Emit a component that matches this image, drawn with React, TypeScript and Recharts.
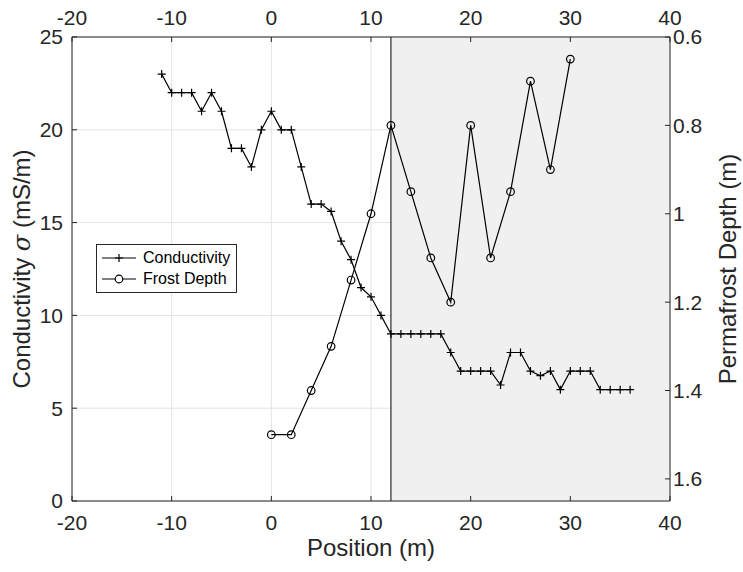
import { LineChart, Line, XAxis, YAxis, CartesianGrid, ReferenceArea, ReferenceLine, Legend } from 'recharts'

// conductivity survey, one reading per metre
const condPos = [
  -11, -10, -9, -8, -7, -6, -5, -4, -3, -2, -1, 0, 1, 2, 3, 4, 5, 6, 7, 8, 9, 10, 11, 12,
  13, 14, 15, 16, 17, 18, 19, 20, 21, 22, 23, 24, 25, 26, 27, 28, 29, 30, 31, 32, 33, 34, 35, 36,
]
const condVal = [
  23, 22, 22, 22, 21, 22, 21, 19, 19, 18, 20, 21, 20, 20, 18, 16, 16, 15.6, 14, 13, 11.5, 11, 10, 9,
  9, 9, 9, 9, 9, 8, 7, 7, 7, 7, 6.25, 8, 8, 7, 6.75, 7, 6, 7, 7, 7, 6, 6, 6, 6,
]

// frost probe, every 2 m
const frostPos = [0, 2, 4, 6, 8, 10, 12, 14, 16, 18, 20, 22, 24, 26, 28, 30]
const frostVal = [1.5, 1.5, 1.4, 1.3, 1.15, 1.0, 0.8, 0.95, 1.1, 1.2, 0.8, 1.1, 0.95, 0.7, 0.9, 0.65]

const xTicks = [-20, -10, 0, 10, 20, 30, 40]
const condTicks = [0, 5, 10, 15, 20, 25]
const depthTicks = [0.6, 0.8, 1, 1.2, 1.4, 1.6]
const thawEdge = 12

const condData = condPos.map((x, i) => ({ x, cond: condVal[i] }))
const frostData = frostPos.map((x, i) => ({ x, depth: frostVal[i] }))

const FONT = '"Liberation Sans", Arial, Helvetica, sans-serif'
const INK = '#262626'
const tickStyle = { fill: INK, fontSize: 21, fontFamily: FONT }

const PlusDot = (p: any) => {
  const { cx, cy, index } = p
  if (cx == null || cy == null) return null
  return <path key={`p${index}`} d={`M${cx - 4},${cy}H${cx + 4}M${cx},${cy - 4}V${cy + 4}`} stroke="#000" strokeWidth={1.2} />
}

const CircleDot = (p: any) => {
  const { cx, cy, index } = p
  if (cx == null || cy == null) return null
  return <circle key={`c${index}`} cx={cx} cy={cy} r={3.8} fill="none" stroke="#000" strokeWidth={1.2} />
}

const legendItems = [
  { name: 'Conductivity', marker: 'plus' },
  { name: 'Frost Depth', marker: 'circle' },
]

function LegendBox() {
  return (
    <div style={{ border: `1px solid ${INK}`, background: '#fff', padding: '2px 6px 3px 4px', fontFamily: FONT, fontSize: 16, color: '#000' }}>
      {legendItems.map(it => (
        <div key={it.name} style={{ display: 'flex', alignItems: 'center', height: 21 }}>
          <svg width={36} height={12} style={{ marginRight: 6 }}>
            <line x1={1} y1={6} x2={35} y2={6} stroke="#000" strokeWidth={1.2} />
            {it.marker === 'plus'
              ? <path d="M14,6H22M18,2V10" stroke="#000" strokeWidth={1.2} />
              : <circle cx={18} cy={6} r={3.8} fill="#fff" stroke="#000" strokeWidth={1.2} />}
          </svg>
          <span>{it.name}</span>
        </div>
      ))}
    </div>
  )
}

export default function App() {
  return (
    <div style={{ position: 'absolute', left: 0, top: 0 }}>
      <LineChart width={743} height={572} margin={{ top: 0, right: 0, bottom: 0, left: 0 }}>
        <CartesianGrid stroke="#e3e3e3" strokeWidth={1} xAxisId="bottom" yAxisId="left" />
        <XAxis xAxisId="bottom" dataKey="x" type="number" domain={[-20, 40]} ticks={xTicks} allowDataOverflow
          height={71} stroke={INK} tick={tickStyle} tickSize={-5} tickMargin={19}
          label={{ content: ({ viewBox }: any) => (
            <text x={viewBox.x + viewBox.width / 2} y={viewBox.y + 55} textAnchor="middle" fill={INK} fontSize={24} fontFamily={FONT}>Position (m)</text>
          ) }} />
        <XAxis xAxisId="top" orientation="top" dataKey="x" type="number" domain={[-20, 40]} ticks={xTicks} allowDataOverflow
          height={37} stroke={INK} tick={tickStyle} tickSize={-5} tickMargin={17} />
        <YAxis yAxisId="left" type="number" domain={[0, 25]} ticks={condTicks} allowDataOverflow
          width={72} stroke={INK} tick={tickStyle} tickSize={-5} tickMargin={14}
          label={{ content: ({ viewBox }: any) => {
            const cy = viewBox.y + viewBox.height / 2
            return (
              <text transform={`translate(30,${cy}) rotate(-90)`} textAnchor="middle" fill={INK} fontSize={24} fontFamily={FONT}>
                Conductivity <tspan fontStyle="italic" fontFamily='"DejaVu Serif", serif'>σ</tspan> (mS/m)
              </text>
            )
          } }} />
        <YAxis yAxisId="right" orientation="right" type="number" domain={[0.6, 1.65]} reversed ticks={depthTicks} allowDataOverflow
          width={73} stroke={INK} tick={tickStyle} tickSize={-5} tickMargin={8}
          label={{ content: ({ viewBox }: any) => {
            const cy = viewBox.y + viewBox.height / 2
            return (
              <text transform={`translate(${viewBox.x + 66},${cy}) rotate(-90)`} textAnchor="middle" fill={INK} fontSize={24} fontFamily={FONT}>
                Permafrost Depth (m)
              </text>
            )
          } }} />
        <ReferenceArea xAxisId="bottom" yAxisId="left" x1={thawEdge} x2={40} y1={0} y2={25} fill="#f0f0f0" fillOpacity={1} stroke="none" />
        <ReferenceLine xAxisId="bottom" yAxisId="left" x={thawEdge} stroke="#000" strokeWidth={1} />
        <Line xAxisId="bottom" yAxisId="left" data={condData} dataKey="cond" name="Conductivity" stroke="#000" strokeWidth={1.2}
          dot={PlusDot} activeDot={false} isAnimationActive={false} />
        <Line xAxisId="bottom" yAxisId="right" data={frostData} dataKey="depth" name="Frost Depth" stroke="#000" strokeWidth={1.2}
          dot={CircleDot} activeDot={false} isAnimationActive={false} />
        <Legend layout="horizontal" verticalAlign="middle" align="center" content={<LegendBox />}
          wrapperStyle={{ position: 'absolute', left: 96, top: 244, width: 'auto' }} />
      </LineChart>
    </div>
  )
}
